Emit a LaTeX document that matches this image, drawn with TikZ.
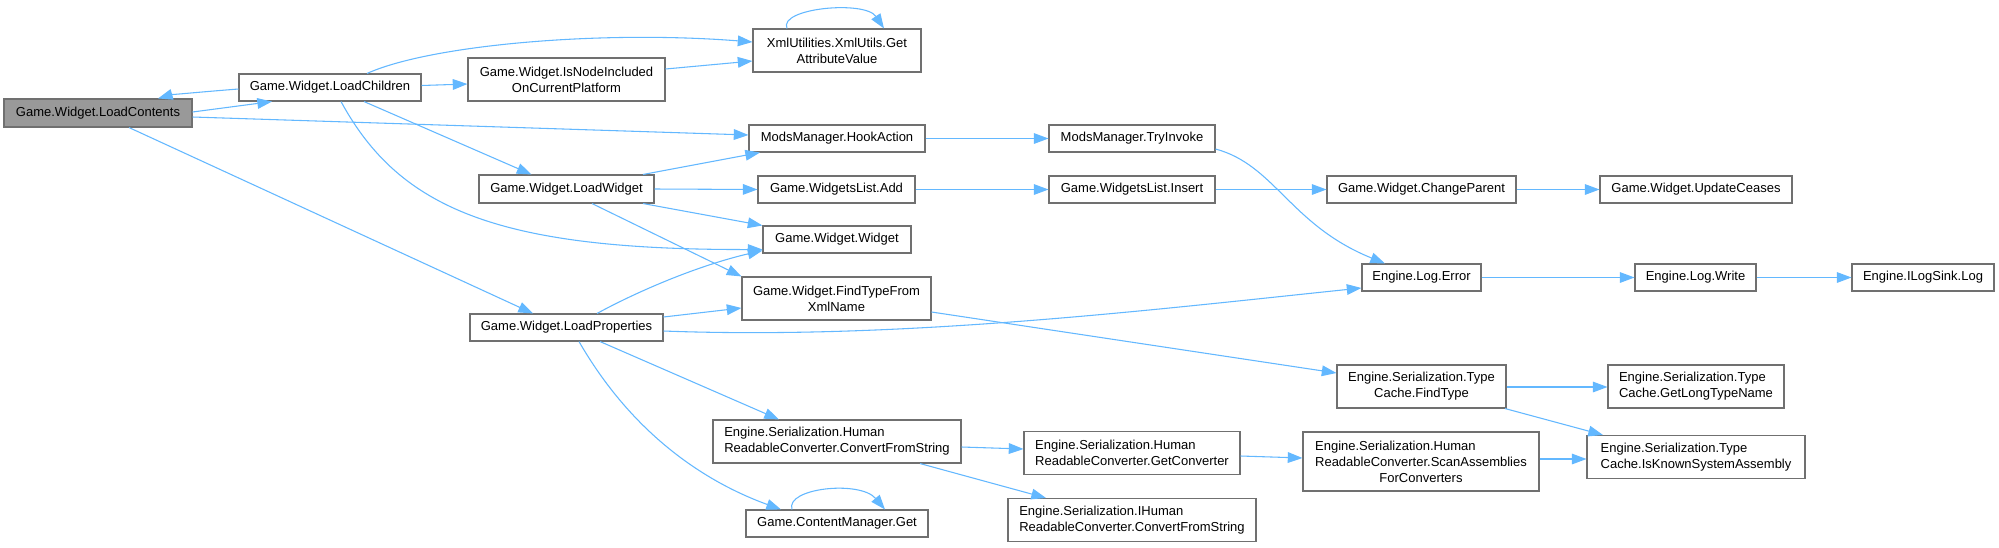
\documentclass[tikz,border=0pt]{standalone}
\usepackage{fontspec}
\setmainfont{Liberation Sans}
\usetikzlibrary{arrows.meta,calc}
\definecolor{eblue}{HTML}{63B8FF}
\definecolor{bgray}{HTML}{707070}
\definecolor{fgray}{HTML}{999999}
\tikzset{
  box/.style={draw=bgray, fill=white, line width=0.8pt, inner sep=0pt, align=center,
    font=\fontsize{9.75pt}{12pt}\selectfont, text=black},
  sz/.style 2 args={minimum width=#1*0.75pt, minimum height=#2*0.75pt},
  lft/.style={align=left},
  conn/.style={draw=eblue, line width=0.8pt, -{Triangle[length=11pt,width=8pt]}},
}
\begin{document}
\begin{tikzpicture}[x=0.75pt, y=-0.75pt]
\fill[white] (0,0) rectangle (1999,547);
\useasboundingbox (0,0) rectangle (1999,547);
% nodes
\node[box, sz={188}{28}, fill=fgray] (lc) at (98,113) {Game.Widget.LoadContents};
\node[box, sz={182}{27}] (lch) at (330,87.5) {Game.Widget.LoadChildren};
\node[box, sz={197}{43}] (isn) at (566.5,79.5) {Game.Widget.IsNodeIncluded\\OnCurrentPlatform};
\node[box, sz={175}{28}] (lw) at (566.5,189) {Game.Widget.LoadWidget};
\node[box, sz={193}{27}] (lp) at (566.5,327.5) {Game.Widget.LoadProperties};
\node[box, sz={168}{43}] (xml) at (837,50.5) {XmlUtilities.XmlUtils.Get\\AttributeValue};
\node[box, sz={176}{27}] (hook) at (837,138.5) {ModsManager.HookAction};
\node[box, sz={157}{27}] (add) at (836.5,189.5) {Game.WidgetsList.Add};
\node[box, sz={148}{27}] (ww) at (837,239.5) {Game.Widget.Widget};
\node[box, sz={189}{43}] (ftx) at (836.5,298.5) {Game.Widget.FindTypeFrom\\XmlName};
\node[box, lft, sz={248}{43}] (hrc) at (837,441.5) {Engine.Serialization.Human\\ReadableConverter.ConvertFromString};
\node[box, sz={182}{27}] (cmg) at (837,523.5) {Game.ContentManager.Get};
\node[box, sz={166}{27}] (try) at (1132,138.5) {ModsManager.TryInvoke};
\node[box, sz={166}{27}] (ins) at (1132,189.5) {Game.WidgetsList.Insert};
\node[box, lft, sz={216}{43}] (gconv) at (1132,453) {Engine.Serialization.Human\\ReadableConverter.GetConverter};
\node[box, lft, sz={248}{43}] (ihrc) at (1132,520) {Engine.Serialization.IHuman\\ReadableConverter.ConvertFromString};
\node[box, sz={189}{27}] (chp) at (1421.5,189.5) {Game.Widget.ChangeParent};
\node[box, sz={119}{27}] (lerr) at (1421.5,277.5) {Engine.Log.Error};
\node[box, sz={169}{43}] (ft) at (1421.5,386.5) {Engine.Serialization.Type\\Cache.FindType};
\node[box, sz={236}{59}] (scan) at (1421,461.5) {\rlap{Engine.Serialization.Human}\phantom{ReadableConverter.ScanAssemblies}\\ReadableConverter.ScanAssemblies\\ForConverters};
\node[box, sz={192}{27}] (upd) at (1696,189.5) {Game.Widget.UpdateCeases};
\node[box, sz={121}{27}] (lwr) at (1695.5,277.5) {Engine.Log.Write};
\node[box, lft, sz={176}{43}] (glt) at (1696,386.5) {Engine.Serialization.Type\\Cache.GetLongTypeName};
\node[box, lft, sz={218}{43}] (iks) at (1696,457) {Engine.Serialization.Type\\Cache.IsKnownSystemAssembly};
\node[box, sz={142}{27}] (ils) at (1923,277.5) {Engine.ILogSink.Log};
% connectors
\draw[conn] ($(lc.east)+(0,-1)$) -- ($(lch.south)+(-58,0)$);
\draw[conn] ($(lch.west)+(0,1.5)$) .. controls (200,92) and (170,95) .. ($(lc.north)+(60,0)$);
\draw[conn] ($(lch.north)+(37,0)$) .. controls (430,45) and (600,30) .. ($(xml.west)+(0,-8.5)$);
\draw[conn] ($(lch.east)+(0,-2)$) -- ($(isn.west)+(0,4.5)$);
\draw[conn] ($(isn.east)+(0,-10.5)$) -- ($(xml.west)+(0,10.5)$);
\draw[conn] ($(xml.north)+(-50,0)$) .. controls (778,8) and (865,0) .. ($(xml.north)+(47,0)$);
\draw[conn] ($(lc.east)+(0,4)$) -- ($(hook.west)+(0,-3.5)$);
\draw[conn] ($(lch.south)+(34,0)$) -- ($(lw.north)+(-35,0)$);
\draw[conn] ($(lch.south)+(11,0)$) .. controls (400,210) and (500,250) .. ($(ww.west)+(0,10)$);
\draw[conn] ($(lc.south)+(31,0)$) -- ($(lp.north)+(-33.5,0)$);
\draw[conn] ($(lw.north)+(76.5,0)$) -- ($(hook.south)+(-77,0)$);
\draw[conn] (lw.east) -- (add.west);
\draw[conn] ($(lw.south)+(76.5,0)$) -- (ww.north west);
\draw[conn] ($(lw.south)+(25.5,0)$) -- (ftx.north west);
\draw[conn] (hook.east) -- (try.west);
\draw[conn] ($(try.east)+(0,10.5)$) .. controls (1275,165) and (1290,225) .. ($(lerr.north)+(-36.5,0)$);
\draw[conn] (add.east) -- (ins.west);
\draw[conn] (ins.east) -- (chp.west);
\draw[conn] (chp.east) -- (upd.west);
\draw[conn] (lerr.east) -- (lwr.west);
\draw[conn] (lwr.east) -- (ils.west);
\draw[conn] ($(lp.north)+(30.5,0)$) .. controls (640,290) and (700,265) .. ($(ww.south west)+(0,-3)$);
\draw[conn] ($(lp.east)+(0,-10.5)$) -- ($(ftx.west)+(0,9.5)$);
\draw[conn] ($(lp.east)+(0,3.5)$) .. controls (900,340) and (1150,310) .. ($(lerr.west)+(0,10.5)$);
\draw[conn] ($(ftx.east)+(0,13.5)$) -- ($(ft.west)+(0,-13.5)$);
\draw[conn] ($(lp.south)+(33.5,0)$) -- ($(hrc.north)+(-58,0)$);
\draw[conn] ($(lp.south)+(12.5,0)$) .. controls (630,430) and (700,480) .. ($(cmg.north)+(-56,0)$);
\draw[conn] ($(cmg.north)+(-45,0)$) .. controls (785,488) and (860,480) .. ($(cmg.north)+(48,0)$);
\draw[conn] ($(hrc.east)+(0,5.5)$) -- ($(gconv.west)+(0,-4)$);
\draw[conn] ($(hrc.south)+(83,0)$) -- ($(ihrc.north)+(-86,0)$);
\draw[conn] ($(gconv.east)+(0,3)$) -- ($(scan.west)+(0,-3.5)$);
\draw[conn] ($(scan.east)+(0,-2.5)$) -- ($(iks.west)+(0,2)$);
\draw[conn] ($(ft.east)+(0,0.5)$) -- ($(glt.west)+(0,0.5)$);
\draw[conn] ($(ft.south)+(83.5,0)$) -- ($(iks.north)+(-93,0)$);
\end{tikzpicture}
\end{document}
